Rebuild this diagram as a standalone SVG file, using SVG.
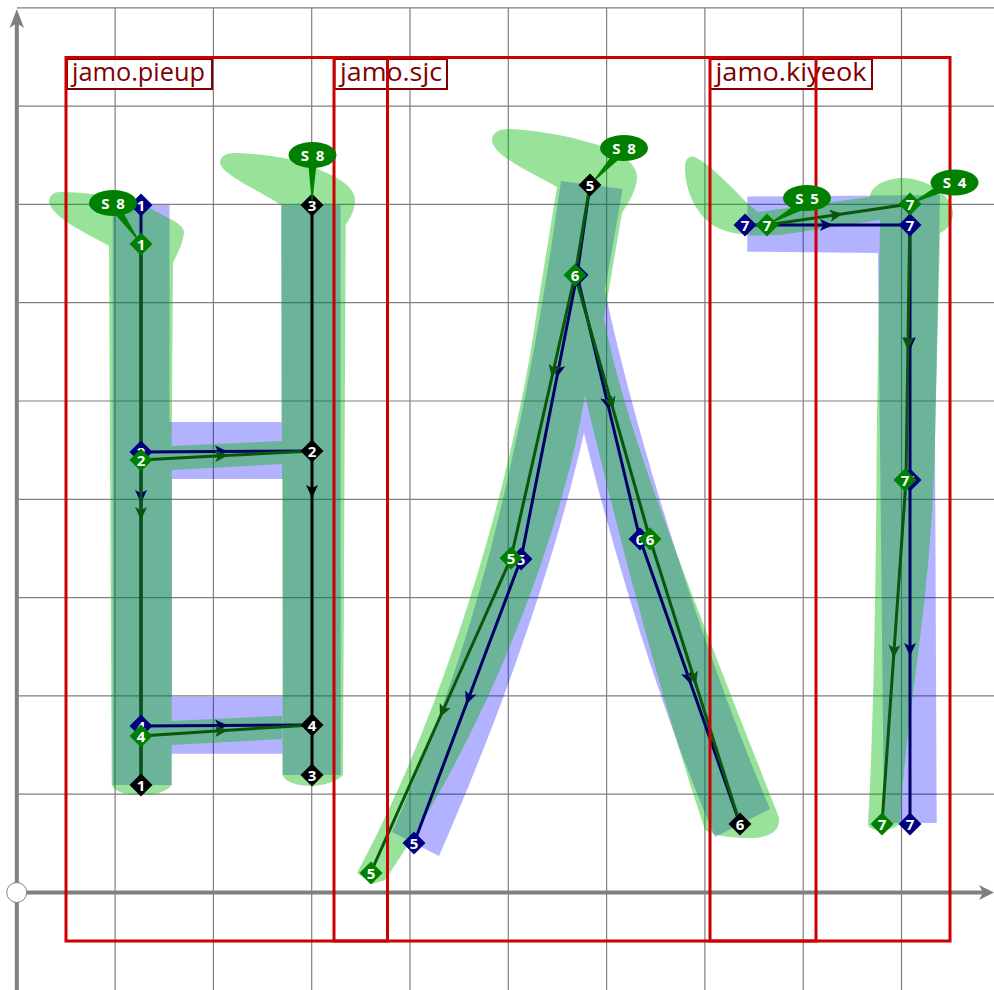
<svg xmlns="http://www.w3.org/2000/svg" width="994" height="990" viewBox="0 0 994 990">
<style>
.grid{stroke:#808080;stroke-width:1.2;fill:none}
.axis{stroke:#808080;stroke-width:4;fill:none}
.b{fill:#0000ff;fill-opacity:.3}
.g{fill:#00b600;fill-opacity:.4}
.box{fill:none;stroke:#cc0000;stroke-width:3}
.lab{fill:#fff;fill-opacity:.85;stroke:#800000;stroke-width:2}
.labt{fill:#800000;font-family:"Open Sans",sans-serif;font-size:26px;font-weight:400}
.lb{fill:none;stroke:#000066;stroke-width:3}
.lg{fill:none;stroke:#0a560a;stroke-width:3}
.lk{fill:none;stroke:#000;stroke-width:3}
.t{fill:#fff;font-family:"Open Sans",sans-serif;font-weight:700;font-size:15px;text-anchor:middle;word-spacing:3px}
.dn{fill:#000080}.dg{fill:#008000}.dk{fill:#000}
.sel{fill:#008000}
</style>
<defs>
<path id="d" d="M0,-11.500 L11.500,0 L0,11.500 L-11.500,0 Z"/>
<marker id="ab" markerUnits="userSpaceOnUse" markerWidth="20" markerHeight="20" refX="10" refY="10" orient="auto" overflow="visible"><path d="M18,10 L5,4 L8,10 L5,16 Z" fill="#000066"/></marker>
<marker id="ag" markerUnits="userSpaceOnUse" markerWidth="20" markerHeight="20" refX="10" refY="10" orient="auto" overflow="visible"><path d="M18,10 L5,4 L8,10 L5,16 Z" fill="#0a560a"/></marker>
<marker id="ak" markerUnits="userSpaceOnUse" markerWidth="20" markerHeight="20" refX="10" refY="10" orient="auto" overflow="visible"><path d="M18,10 L5,4 L8,10 L5,16 Z" fill="#000"/></marker>
</defs>
<g id="grid">
<path class="grid" d="M115.100,8V990M213.400,8V990M311.700,8V990M410,8V990M508.300,8V990M606.600,8V990M704.900,8V990M803.200,8V990M901.500,8V990"/>
<path class="grid" d="M17,7.800H994M17,106.100H994M17,204.400H994M17,302.700H994M17,401H994M17,499.300H994M17,597.600H994M17,695.900H994M17,794.200H994"/>
<path class="axis" d="M16.800,990V20M17,892.400H984"/>
<path fill="#808080" d="M16.800,9 L24,28 L16.800,23 L9.600,28 Z"/>
<path fill="#808080" d="M994,892.400 L979,885 L983,892.400 L979,900 Z"/>
<circle cx="16.700" cy="892.500" r="10" fill="#fff" stroke="#808080" stroke-width="1"/>
</g>
<g id="outlines-blue">
<path class="b" fill-rule="evenodd" d="M112.700,205H169.500V422H281.500V205H340.700V775H282.500V753.700H171.500V785H112.700ZM172,479V696.700H283V479Z"/>
<path class="b" d="M561,181L622.700,189L605,290C625,390 690,620 770,809L715,837C660,710 610,540 584,433C555,560 505,705 439,856L392,832C450,700 510,540 561,181Z"/>
<path class="b" d="M747.300,196.500L940,195L935,440L936.700,823H884L878,253L747.300,251.700Z"/>
</g>
<g id="outlines-green">
<path class="g" d="M109,246C90,235 52,218 49,202C49,193 56,192 62,192C80,192 130,196 155,211C172,220 185,225 184,233C183,244 177,254 173,263L171.700,446L282,441L281,205C262,192 222,175 220,163C221,153 230,153 238,153C260,154 300,158 320,170C345,180 355,190 355,200C355,210 350,218 345.700,225L343,775C335,784 315,786 312,786C300,786 285,783 282.700,775L282,464L171.700,470V721L282,715.700V739L171.700,745V785C165,794 150,795 141,795C130,795 115,793 111.700,785Z"/>
<path class="g" d="M557,187C530,172 492,155 492,140C492,131 502,129 510,129C530,130 560,134 580,140C610,147 637,160 637,177C637,190 628,203 622,213L604,318C625,430 690,590 778,815C782,825 776,838 750,838C730,838 715,836 705,830C655,680 610,500 585,395C565,520 495,720 385,880L372,884L357,873C450,700 515,470 537,310L557,187Z"/>
<path class="g" d="M747,203L758,212L870,197C870,187 885,178 903,178C925,178 953,195 953,213C953,222 947,230 940,233L935,440C932,600 905,720 900,823C896,829 885,831 877,830C870,829 867,826 868,823C873,740 876,600 876.700,440L880,220L780,235C760,236 740,236 723,230C700,222 685,195 685,167C685,158 690,155 695,157C710,165 730,185 747,203Z"/>
</g>
<g id="connectors">
<path class="lb" marker-mid="url(#ab)" d="M141,205L141,495L141,785"/>
<path class="lb" marker-mid="url(#ab)" d="M141,452L220,451.500L312,451"/>
<path class="lb" marker-mid="url(#ab)" d="M141,726L220,725.500L312,725"/>
<path class="lb" d="M590,185L577,275"/>
<path class="lb" marker-mid="url(#ab)" d="M577,275L558.300,370L521,559"/>
<path class="lb" marker-mid="url(#ab)" d="M521,559L469,697L414,843"/>
<path class="lb" marker-mid="url(#ab)" d="M577,275L607.300,402L640,539"/>
<path class="lb" marker-mid="url(#ab)" d="M640,539L688.400,677L740,824"/>
<path class="lb" marker-mid="url(#ab)" d="M745,225L825,225L910,225"/>
<path class="lb" marker-mid="url(#ab)" d="M910,225L910,342L910,480"/>
<path class="lb" marker-mid="url(#ab)" d="M910,480L910,648L910,824"/>
<path class="lk" marker-mid="url(#ak)" d="M312,205L312,490L312,775"/>
<path class="lg" marker-mid="url(#ag)" d="M141,244L141,512L141,785"/>
<path class="lg" marker-mid="url(#ag)" d="M141,460L220,455.800L312,451"/>
<path class="lg" marker-mid="url(#ag)" d="M141,736L220,730.700L312,725"/>
<path class="lg" d="M590,185L575,275"/>
<path class="lg" marker-mid="url(#ag)" d="M575,275L553.500,370L511,558"/>
<path class="lg" marker-mid="url(#ag)" d="M511,558L443.200,710L371,872"/>
<path class="lg" marker-mid="url(#ag)" d="M575,275L611,402L650,539"/>
<path class="lg" marker-mid="url(#ag)" d="M650,539L693.600,677L740,824"/>
<path class="lg" marker-mid="url(#ag)" d="M767,225L835,215L910,204"/>
<path class="lg" marker-mid="url(#ag)" d="M910,204L908,342L906,480"/>
<path class="lg" marker-mid="url(#ag)" d="M906,480L894.100,650L882,824"/>
</g>
<g id="jamo-labels">
<rect class="lab" x="67" y="59" width="145" height="30"/>
<text class="labt" x="72" y="81" textLength="133" lengthAdjust="spacingAndGlyphs">jamo.pieup</text>
<rect class="lab" x="334.500" y="59" width="112.500" height="30"/>
<text class="labt" x="340" y="81" textLength="102" lengthAdjust="spacingAndGlyphs">jamo.sjc</text>
<rect class="lab" x="710" y="59" width="162" height="30"/>
<text class="labt" x="715.500" y="81" textLength="151" lengthAdjust="spacingAndGlyphs">jamo.kiyeok</text>
</g>
<g id="boxes">
<rect id="box-pieup" class="box" x="66" y="57.500" width="321.500" height="883.500"/>
<rect id="box-sjc" class="box" x="334" y="57.500" width="482" height="883.500"/>
<rect id="box-kiyeok" class="box" x="710" y="57.500" width="240" height="883.500"/>
</g>
<g id="n-b1"><use href="#d" class="dn" x="141" y="205"/><text class="t" x="141" y="210.500">1</text></g>
<g id="n-b2"><use href="#d" class="dn" x="141" y="452"/><text class="t" x="141" y="457.500">2</text></g>
<g id="n-b4"><use href="#d" class="dn" x="141" y="726"/><text class="t" x="141" y="731.500">4</text></g>
<g id="n-k1"><use href="#d" class="dk" x="141" y="785"/><text class="t" x="141" y="790.500">1</text></g>
<g id="n-g1"><use href="#d" class="dg" x="141" y="244"/><text class="t" x="141" y="249.500">1</text></g>
<g id="n-g2"><use href="#d" class="dg" x="141" y="460"/><text class="t" x="141" y="465.500">2</text></g>
<g id="n-g4"><use href="#d" class="dg" x="141" y="736"/><text class="t" x="141" y="741.500">4</text></g>
<g id="n-k3a"><use href="#d" class="dk" x="312" y="205"/><text class="t" x="312" y="210.500">3</text></g>
<g id="n-k2"><use href="#d" class="dk" x="312" y="451"/><text class="t" x="312" y="456.500">2</text></g>
<g id="n-k4"><use href="#d" class="dk" x="312" y="725"/><text class="t" x="312" y="730.500">4</text></g>
<g id="n-k3b"><use href="#d" class="dk" x="312" y="775"/><text class="t" x="312" y="780.500">3</text></g>
<g id="n-s8a"><path class="sel" d="M107,205L119,205L141,244Z"/><ellipse class="sel" cx="113" cy="203" rx="24" ry="13"/><text class="t" x="113" y="208.500">S 8</text></g>
<g id="n-s8b"><path class="sel" d="M308,160L317,160L312,205Z"/><ellipse class="sel" cx="312.500" cy="155" rx="24" ry="13"/><text class="t" x="312.500" y="160.500">S 8</text></g>
<g id="n-b6a"><use href="#d" class="dn" x="577" y="275"/><text class="t" x="577" y="280.500">6</text></g>
<g id="n-g6a"><use href="#d" class="dg" x="575" y="275"/><text class="t" x="575" y="280.500">6</text></g>
<g id="n-s8c"><path class="sel" d="M616,150L626,153L590,185Z"/><ellipse class="sel" cx="624" cy="148" rx="24" ry="13"/><text class="t" x="624" y="153.500">S 8</text></g>
<g id="n-k5"><use href="#d" class="dk" x="590" y="185"/><text class="t" x="590" y="190.500">5</text></g>
<g id="n-b5a"><use href="#d" class="dn" x="521" y="559"/><text class="t" x="521" y="564.500">5</text></g>
<g id="n-g5a"><use href="#d" class="dg" x="511" y="558"/><text class="t" x="511" y="563.500">5</text></g>
<g id="n-b5b"><use href="#d" class="dn" x="414" y="843"/><text class="t" x="414" y="848.500">5</text></g>
<g id="n-g5b"><use href="#d" class="dg" x="371" y="873"/><text class="t" x="371" y="878.500">5</text></g>
<g id="n-b6b"><use href="#d" class="dn" x="640" y="539"/><text class="t" x="640" y="544.500">6</text></g>
<g id="n-g6b"><use href="#d" class="dg" x="650" y="539"/><text class="t" x="650" y="544.500">6</text></g>
<g id="n-k6"><use href="#d" class="dk" x="740" y="824"/><text class="t" x="740" y="829.500">6</text></g>
<g id="n-b7a"><use href="#d" class="dn" x="745" y="225"/><text class="t" x="745" y="230.500">7</text></g>
<g id="n-s5"><path class="sel" d="M795,205L805,209L767,225Z"/><ellipse class="sel" cx="807" cy="198" rx="24" ry="13"/><text class="t" x="807" y="203.500">S 5</text></g>
<g id="n-g7a"><use href="#d" class="dg" x="767" y="225"/><text class="t" x="767" y="230.500">7</text></g>
<g id="n-b7b"><use href="#d" class="dn" x="910" y="225"/><text class="t" x="910" y="230.500">7</text></g>
<g id="n-s4"><path class="sel" d="M940,184L947,191L910,204Z"/><ellipse class="sel" cx="954.500" cy="182.500" rx="24" ry="13"/><text class="t" x="954.500" y="188">S 4</text></g>
<g id="n-g7b"><use href="#d" class="dg" x="910" y="204"/><text class="t" x="910" y="209.500">7</text></g>
<g id="n-b7c"><use href="#d" class="dn" x="910" y="480"/><text class="t" x="910" y="485.500">7</text></g>
<g id="n-g7c"><use href="#d" class="dg" x="905" y="480"/><text class="t" x="905" y="485.500">7</text></g>
<g id="n-g7d"><use href="#d" class="dg" x="882" y="824"/><text class="t" x="882" y="829.500">7</text></g>
<g id="n-b7d"><use href="#d" class="dn" x="910" y="824"/><text class="t" x="910" y="829.500">7</text></g>
</svg>
